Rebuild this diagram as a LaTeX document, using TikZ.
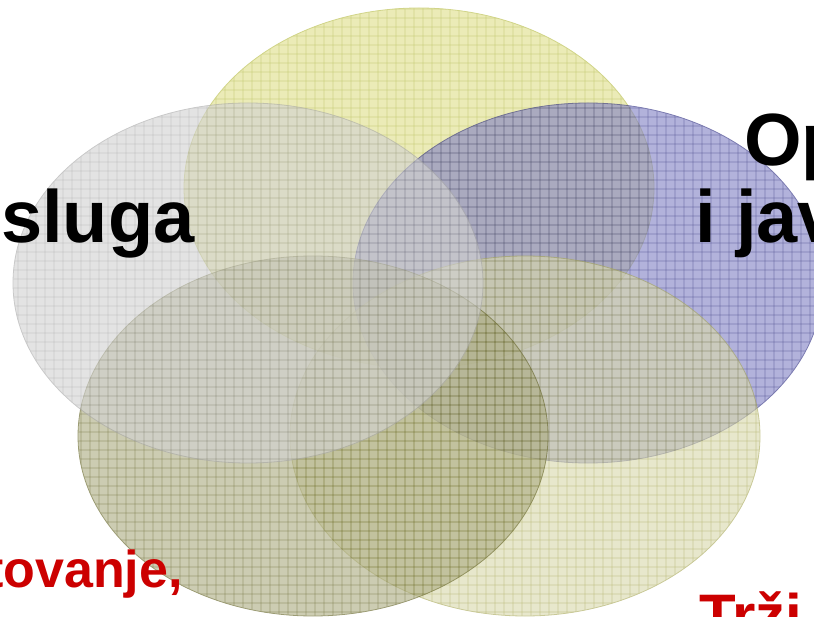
\documentclass[tikz,border=0pt]{standalone}
\usepackage{fontspec}
\setmainfont{Liberation Sans}
\usetikzlibrary{positioning}
\definecolor{topfill}{HTML}{DEDE8A}
\definecolor{topline}{HTML}{B4BA40}
\definecolor{greyfill}{HTML}{D2D2D2}
\definecolor{greyline}{HTML}{A8A8A8}
\definecolor{bluefill}{HTML}{8282C5}
\definecolor{blueline}{HTML}{2A2A80}
\definecolor{olivefill}{HTML}{ACAC82}
\definecolor{oliveline}{HTML}{606020}
\definecolor{paleyfill}{HTML}{D9D9AC}
\definecolor{paleyline}{HTML}{A8A858}
\definecolor{txtred}{HTML}{CC0000}
\tikzset{
  vennset/.style = {transparency group, opacity=0.62},
  gridln/.style  = {line width=0.9pt},
  rimln/.style   = {line width=0.8pt},
  bigtxt/.style  = {font=\fontsize{74}{80}\selectfont\bfseries, text=black,
                    inner sep=0pt, anchor=base west},
  redtxt/.style  = {font=\fontsize{52}{58}\selectfont\bfseries, text=txtred,
                    inner sep=0pt, anchor=base west},
}

\begin{document}
\begin{tikzpicture}[x=1pt, y=-1pt]
  \useasboundingbox (0,0) rectangle (814,617);
  \clip (0,0) rectangle (814,617);
  % five sets, back to front
  \foreach \nm/\cx/\cy/\fc/\lc in {
      top/419/188/topfill/topline,
      right/588/283/bluefill/blueline,
      lowright/525/436/paleyfill/paleyline,
      lowleft/313/436/olivefill/oliveline,
      left/248/283/greyfill/greyline}{
    \begin{scope}[vennset]
      \fill[\fc] (\cx,\cy) ellipse [x radius=235, y radius=180];
      \begin{scope}
        \clip (\cx,\cy) ellipse [x radius=235, y radius=180];
        \draw[gridln, \lc, step=9pt] (\cx-240,\cy-190) grid (\cx+240,\cy+190);
      \end{scope}
      \draw[rimln, \lc] (\cx,\cy) ellipse [x radius=235, y radius=180];
    \end{scope}
  }
  % labels
  \node[bigtxt] (usl) at (1,243) {sluga};
  \node[bigtxt] (opst) at (744,166) {Op};
  \node[bigtxt] (jav) at (695,243) {i jav};
  \node[redtxt] (kov) at (-14,587) {tovanje,};
  \node[redtxt, font=\fontsize{60}{66}\selectfont\bfseries] (trz) at (699,636) {Trži};
\end{tikzpicture}
\end{document}
